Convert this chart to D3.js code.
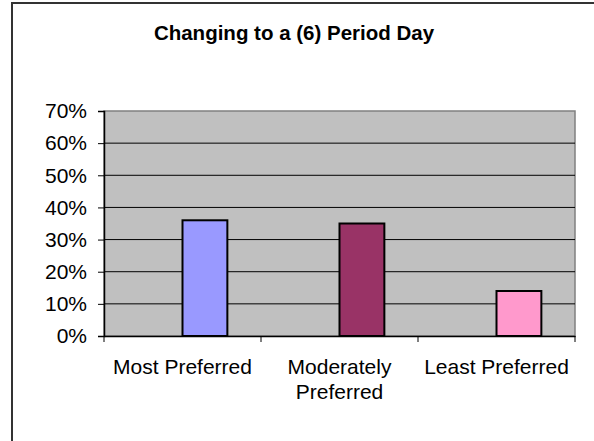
<!DOCTYPE html>
<html>
<head>
<meta charset="utf-8">
<script src="https://cdn.jsdelivr.net/npm/d3@7"></script>
<style>
  body { margin: 0; background: #fff; }
  svg { display: block; font-family: "Liberation Sans", Arial, sans-serif; }
</style>
</head>
<body>
<div id="chart"></div>
<script>
// Data
const categories = ["Most Preferred", "Moderately Preferred", "Least Preferred"];
const values = [0.36, 0.35, 0.14];
const barColors = ["#9999FF", "#993366", "#FF99CC"];
const yTicks = [0, 0.1, 0.2, 0.3, 0.4, 0.5, 0.6, 0.7];
const title = "Changing to a (6) Period Day";

const W = 594, H = 441;
const margin = {top: 111, right: 19, bottom: 105, left: 104},
    width = W - margin.left - margin.right,
    height = H - margin.top - margin.bottom;

const svg = d3.select("#chart")
  .append("svg")
    .attr("width", W)
    .attr("height", H);

// chart frame (cropped on right/bottom like the original)
svg.append("rect")
    .attr("x", 12).attr("y", 3)
    .attr("width", 600).attr("height", 460)
    .attr("fill", "#fff")
    .attr("stroke", "#333")
    .attr("stroke-width", 2);

svg.append("text")
    .attr("x", 294).attr("y", 40)
    .attr("text-anchor", "middle")
    .style("font-weight", "bold")
    .style("font-size", "20.5px")
    .text(title);

const g = svg.append("g")
    .attr("transform", `translate(${margin.left},${margin.top})`);

// scales
const x = d3.scaleBand()
    .domain(categories)
    .range([0, width]);

// two series slots per category, Excel-like gap width 150%; only the second holds a value
const slot = d3.scaleBand()
    .domain(["empty", "value"])
    .range([0, x.bandwidth()])
    .paddingInner(0)
    .paddingOuter(0.75);

const y = d3.scaleLinear()
    .domain([0, 0.7])
    .range([height, 0]);

// plot area
g.append("rect")
    .attr("width", width)
    .attr("height", height)
    .attr("fill", "#C0C0C0")
    .attr("stroke", "#808080")
    .attr("stroke-width", 1.5);

// gridlines
g.selectAll(".grid")
  .data(yTicks.filter(d => d > 0 && d < 0.7))
  .enter().append("line")
    .attr("x1", 0).attr("x2", width)
    .attr("y1", d => y(d)).attr("y2", d => y(d))
    .attr("stroke", "#000")
    .attr("stroke-width", 1);

// bars
g.selectAll(".bar")
  .data(values)
  .enter().append("rect")
    .attr("class", "bar")
    .attr("x", (d, i) => x(categories[i]) + slot("value"))
    .attr("width", slot.bandwidth())
    .attr("y", d => y(d))
    .attr("height", d => height - y(d))
    .attr("fill", (d, i) => barColors[i])
    .attr("stroke", "#000")
    .attr("stroke-width", 2);

// y axis
const yAxis = g.append("g")
    .call(d3.axisLeft(y).tickValues(yTicks).tickFormat(d3.format(".0%")).tickSizeOuter(0).tickSize(6).tickPadding(11));
yAxis.select(".domain").attr("stroke", "#000").attr("stroke-width", 1.5);
yAxis.selectAll("text").style("font-size", "21px").attr("fill", "#000");

// x axis
const xAxis = g.append("g")
    .attr("transform", `translate(0,${height})`)
    .call(d3.axisBottom(x).tickValues([]).tickSizeOuter(0));
xAxis.select(".domain").attr("stroke", "#000").attr("stroke-width", 1.5);

// category boundary ticks
xAxis.selectAll(".btick")
  .data(d3.range(categories.length + 1))
  .enter().append("line")
    .attr("x1", i => i * x.step()).attr("x2", i => i * x.step())
    .attr("y1", 0).attr("y2", 6)
    .attr("stroke", "#000");

// category labels, wrapped to band width
const labels = g.selectAll(".cat")
  .data(categories)
  .enter().append("text")
    .attr("class", "cat")
    .attr("x", d => x(d) + x.bandwidth() / 2)
    .attr("y", height + 38)
    .attr("text-anchor", "middle")
    .style("font-size", "21px");

labels.each(function(d) {
  const t = d3.select(this);
  const words = d.split(" ");
  let line = [];
  let tspan = t.append("tspan").attr("x", t.attr("x")).attr("dy", 0);
  words.forEach(w => {
    line.push(w);
    tspan.text(line.join(" "));
    if (tspan.node().getComputedTextLength() > x.bandwidth() - 6 && line.length > 1) {
      line.pop();
      tspan.text(line.join(" "));
      line = [w];
      tspan = t.append("tspan").attr("x", t.attr("x")).attr("dy", "25px").text(w);
    }
  });
});
</script>
</body>
</html>
